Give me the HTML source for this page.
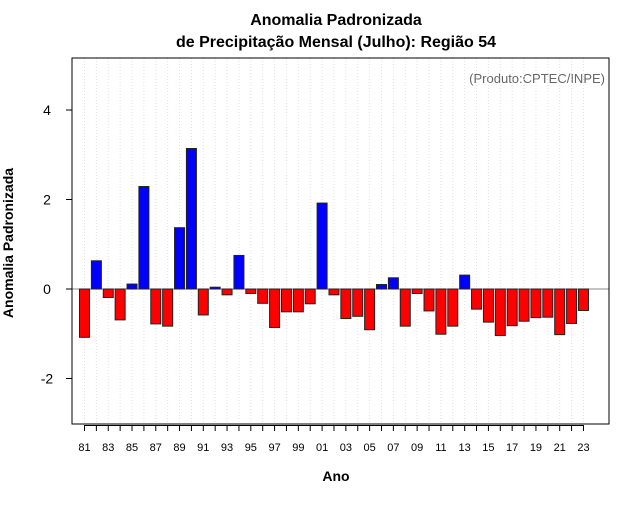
<!DOCTYPE html>
<html><head><meta charset="utf-8"><style>
body{margin:0;background:#fff;width:640px;height:500px;overflow:hidden;font-family:"Liberation Sans",sans-serif}
</style></head><body>
<svg id="c" width="640" height="500" xmlns="http://www.w3.org/2000/svg" font-family="Liberation Sans, sans-serif">
<text x="336" y="25" text-anchor="middle" font-size="16" font-weight="bold">Anomalia Padronizada</text>
<text x="336" y="47" text-anchor="middle" font-size="16" font-weight="bold">de Precipitação Mensal (Julho): Região 54</text>
<text x="336" y="481" text-anchor="middle" font-size="14" font-weight="bold">Ano</text>
<text transform="translate(13,243) rotate(-90)" text-anchor="middle" font-size="14" font-weight="bold">Anomalia Padronizada</text>
<text x="605" y="83" text-anchor="end" font-size="13" fill="#666">(Produto:CPTEC/INPE)</text>
<g id="grid"></g><g id="bars"></g><g id="axes"></g>
<rect x="72" y="58" width="537" height="366" fill="none" stroke="#000"/>
</svg>
<script>
const years=[81,82,83,84,85,86,87,88,89,90,91,92,93,94,95,96,97,98,99,0,1,2,3,4,5,6,7,8,9,10,11,12,13,14,15,16,17,18,19,20,21,22,23];
const values=[-1.08,0.63,-0.19,-0.69,0.11,2.29,-0.78,-0.83,1.37,3.14,-0.58,0.04,-0.13,0.75,-0.10,-0.32,-0.86,-0.51,-0.51,-0.33,1.92,-0.13,-0.66,-0.61,-0.91,0.10,0.25,-0.83,-0.10,-0.49,-1.01,-0.83,0.31,-0.45,-0.74,-1.04,-0.82,-0.72,-0.64,-0.63,-1.02,-0.77,-0.48];
const yTicks=[-2,0,2,4];
const NS='http://www.w3.org/2000/svg';
const xs=i=>84.5+i*11.88;
const ys=v=>289-v*44.75;
function mk(t,a,p){const e=document.createElementNS(NS,t);for(const k in a)e.setAttribute(k,a[k]);p.appendChild(e);return e;}
const g=document.getElementById('grid'),b=document.getElementById('bars'),ax=document.getElementById('axes');
years.forEach((y,i)=>{
 const l=mk('line',{x1:xs(i),x2:xs(i),y1:58,y2:424,stroke:'#e0e0e0','stroke-dasharray':'1,2'},g);
 
 
 const t=mk('line',{x1:xs(i),x2:xs(i),y1:425,y2:431,stroke:'#000'},ax);
 
 
 if(i%2===0){const tx=mk('text',{x:xs(i),y:451,'text-anchor':'middle','font-size':11},ax);tx.textContent=String(y).padStart(2,'0');
 
 }
});
mk('line',{x1:xs(0),x2:xs(years.length-1),y1:425.5,y2:425.5,stroke:'#000'},ax);
mk('line',{x1:72,x2:609,y1:ys(0),y2:ys(0),stroke:'#888'},g);
values.forEach((v,i)=>{
 const top=Math.min(ys(v),ys(0)),h=Math.abs(ys(v)-ys(0));
 const r=mk('rect',{x:xs(i)-5,y:top,width:10,height:h,fill:v>=0?'#0000ff':'#ff0000',stroke:'#222','stroke-width':1},b);
 
 
});
yTicks.forEach(v=>{
 const t=mk('line',{x1:66,x2:72,y1:ys(v),y2:ys(v),stroke:'#000'},ax);
 
 
 const tx=mk('text',{x:47,y:ys(v)+5,'text-anchor':'middle','font-size':14},ax);tx.textContent=v;
 
 
});
</script>
</body></html>
